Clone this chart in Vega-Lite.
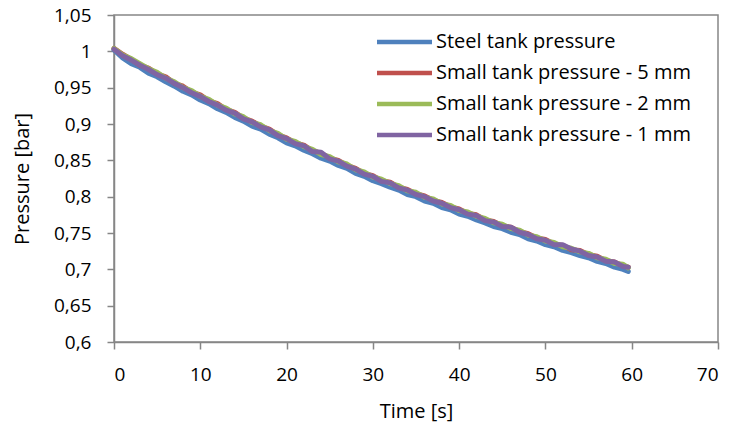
{
  "$schema": "https://vega.github.io/schema/vega-lite/v6.json",
  "width": 604,
  "height": 327,
  "autosize": {"type": "none"},
  "padding": {"left": 114, "top": 15, "right": 14, "bottom": 83},
  "background": "white",
  "config": {
    "view": {"stroke": "#868686", "strokeWidth": 1.5},
    "font": "Open Sans",
    "axis": {
      "grid": false,
      "domainColor": "#868686",
      "domainWidth": 1.5,
      "tickColor": "#868686",
      "tickWidth": 1.5,
      "tickSize": 7,
      "labelFont": "Open Sans",
      "labelFontSize": 19,
      "labelColor": "black",
      "titleFont": "Open Sans",
      "titleFontSize": 20,
      "titleFontWeight": "normal",
      "titleColor": "black"
    }
  },
  "data": {
    "values": [
      {"t":0,"Steel tank pressure":1.002,"Small tank pressure - 5 mm":1.004,"Small tank pressure - 2 mm":1.004,"Small tank pressure - 1 mm":1.003},
      {"t":1,"Steel tank pressure":0.991,"Small tank pressure - 5 mm":0.996,"Small tank pressure - 2 mm":0.995,"Small tank pressure - 1 mm":0.994},
      {"t":2,"Steel tank pressure":0.983,"Small tank pressure - 5 mm":0.989,"Small tank pressure - 2 mm":0.990,"Small tank pressure - 1 mm":0.988},
      {"t":3,"Steel tank pressure":0.978,"Small tank pressure - 5 mm":0.981,"Small tank pressure - 2 mm":0.983,"Small tank pressure - 1 mm":0.981},
      {"t":4,"Steel tank pressure":0.970,"Small tank pressure - 5 mm":0.977,"Small tank pressure - 2 mm":0.976,"Small tank pressure - 1 mm":0.975},
      {"t":5,"Steel tank pressure":0.965,"Small tank pressure - 5 mm":0.969,"Small tank pressure - 2 mm":0.971,"Small tank pressure - 1 mm":0.968},
      {"t":6,"Steel tank pressure":0.958,"Small tank pressure - 5 mm":0.965,"Small tank pressure - 2 mm":0.963,"Small tank pressure - 1 mm":0.963},
      {"t":7,"Steel tank pressure":0.952,"Small tank pressure - 5 mm":0.956,"Small tank pressure - 2 mm":0.958,"Small tank pressure - 1 mm":0.956},
      {"t":8,"Steel tank pressure":0.945,"Small tank pressure - 5 mm":0.952,"Small tank pressure - 2 mm":0.950,"Small tank pressure - 1 mm":0.950},
      {"t":9,"Steel tank pressure":0.940,"Small tank pressure - 5 mm":0.944,"Small tank pressure - 2 mm":0.946,"Small tank pressure - 1 mm":0.943},
      {"t":10,"Steel tank pressure":0.933,"Small tank pressure - 5 mm":0.940,"Small tank pressure - 2 mm":0.938,"Small tank pressure - 1 mm":0.938},
      {"t":11,"Steel tank pressure":0.928,"Small tank pressure - 5 mm":0.932,"Small tank pressure - 2 mm":0.934,"Small tank pressure - 1 mm":0.931},
      {"t":12,"Steel tank pressure":0.921,"Small tank pressure - 5 mm":0.928,"Small tank pressure - 2 mm":0.926,"Small tank pressure - 1 mm":0.926},
      {"t":13,"Steel tank pressure":0.916,"Small tank pressure - 5 mm":0.920,"Small tank pressure - 2 mm":0.922,"Small tank pressure - 1 mm":0.919},
      {"t":14,"Steel tank pressure":0.909,"Small tank pressure - 5 mm":0.916,"Small tank pressure - 2 mm":0.914,"Small tank pressure - 1 mm":0.915},
      {"t":15,"Steel tank pressure":0.904,"Small tank pressure - 5 mm":0.908,"Small tank pressure - 2 mm":0.910,"Small tank pressure - 1 mm":0.907},
      {"t":16,"Steel tank pressure":0.897,"Small tank pressure - 5 mm":0.904,"Small tank pressure - 2 mm":0.902,"Small tank pressure - 1 mm":0.903},
      {"t":17,"Steel tank pressure":0.893,"Small tank pressure - 5 mm":0.897,"Small tank pressure - 2 mm":0.899,"Small tank pressure - 1 mm":0.896},
      {"t":18,"Steel tank pressure":0.886,"Small tank pressure - 5 mm":0.893,"Small tank pressure - 2 mm":0.891,"Small tank pressure - 1 mm":0.892},
      {"t":19,"Steel tank pressure":0.881,"Small tank pressure - 5 mm":0.885,"Small tank pressure - 2 mm":0.887,"Small tank pressure - 1 mm":0.884},
      {"t":20,"Steel tank pressure":0.874,"Small tank pressure - 5 mm":0.881,"Small tank pressure - 2 mm":0.879,"Small tank pressure - 1 mm":0.880},
      {"t":21,"Steel tank pressure":0.870,"Small tank pressure - 5 mm":0.874,"Small tank pressure - 2 mm":0.876,"Small tank pressure - 1 mm":0.873},
      {"t":22,"Steel tank pressure":0.864,"Small tank pressure - 5 mm":0.871,"Small tank pressure - 2 mm":0.869,"Small tank pressure - 1 mm":0.870},
      {"t":23,"Steel tank pressure":0.859,"Small tank pressure - 5 mm":0.863,"Small tank pressure - 2 mm":0.865,"Small tank pressure - 1 mm":0.862},
      {"t":24,"Steel tank pressure":0.853,"Small tank pressure - 5 mm":0.860,"Small tank pressure - 2 mm":0.858,"Small tank pressure - 1 mm":0.861},
      {"t":25,"Steel tank pressure":0.849,"Small tank pressure - 5 mm":0.853,"Small tank pressure - 2 mm":0.855,"Small tank pressure - 1 mm":0.852},
      {"t":26,"Steel tank pressure":0.843,"Small tank pressure - 5 mm":0.850,"Small tank pressure - 2 mm":0.848,"Small tank pressure - 1 mm":0.849},
      {"t":27,"Steel tank pressure":0.839,"Small tank pressure - 5 mm":0.843,"Small tank pressure - 2 mm":0.845,"Small tank pressure - 1 mm":0.842},
      {"t":28,"Steel tank pressure":0.832,"Small tank pressure - 5 mm":0.839,"Small tank pressure - 2 mm":0.837,"Small tank pressure - 1 mm":0.838},
      {"t":29,"Steel tank pressure":0.828,"Small tank pressure - 5 mm":0.832,"Small tank pressure - 2 mm":0.834,"Small tank pressure - 1 mm":0.831},
      {"t":30,"Steel tank pressure":0.822,"Small tank pressure - 5 mm":0.829,"Small tank pressure - 2 mm":0.827,"Small tank pressure - 1 mm":0.828},
      {"t":31,"Steel tank pressure":0.818,"Small tank pressure - 5 mm":0.822,"Small tank pressure - 2 mm":0.824,"Small tank pressure - 1 mm":0.821},
      {"t":32,"Steel tank pressure":0.813,"Small tank pressure - 5 mm":0.820,"Small tank pressure - 2 mm":0.818,"Small tank pressure - 1 mm":0.819},
      {"t":33,"Steel tank pressure":0.809,"Small tank pressure - 5 mm":0.813,"Small tank pressure - 2 mm":0.815,"Small tank pressure - 1 mm":0.812},
      {"t":34,"Steel tank pressure":0.803,"Small tank pressure - 5 mm":0.810,"Small tank pressure - 2 mm":0.808,"Small tank pressure - 1 mm":0.809},
      {"t":35,"Steel tank pressure":0.800,"Small tank pressure - 5 mm":0.804,"Small tank pressure - 2 mm":0.806,"Small tank pressure - 1 mm":0.803},
      {"t":36,"Steel tank pressure":0.794,"Small tank pressure - 5 mm":0.801,"Small tank pressure - 2 mm":0.799,"Small tank pressure - 1 mm":0.800},
      {"t":37,"Steel tank pressure":0.791,"Small tank pressure - 5 mm":0.795,"Small tank pressure - 2 mm":0.797,"Small tank pressure - 1 mm":0.794},
      {"t":38,"Steel tank pressure":0.785,"Small tank pressure - 5 mm":0.792,"Small tank pressure - 2 mm":0.790,"Small tank pressure - 1 mm":0.791},
      {"t":39,"Steel tank pressure":0.782,"Small tank pressure - 5 mm":0.786,"Small tank pressure - 2 mm":0.788,"Small tank pressure - 1 mm":0.785},
      {"t":40,"Steel tank pressure":0.776,"Small tank pressure - 5 mm":0.783,"Small tank pressure - 2 mm":0.781,"Small tank pressure - 1 mm":0.782},
      {"t":41,"Steel tank pressure":0.773,"Small tank pressure - 5 mm":0.777,"Small tank pressure - 2 mm":0.779,"Small tank pressure - 1 mm":0.776},
      {"t":42,"Steel tank pressure":0.768,"Small tank pressure - 5 mm":0.775,"Small tank pressure - 2 mm":0.773,"Small tank pressure - 1 mm":0.774},
      {"t":43,"Steel tank pressure":0.764,"Small tank pressure - 5 mm":0.768,"Small tank pressure - 2 mm":0.770,"Small tank pressure - 1 mm":0.767},
      {"t":44,"Steel tank pressure":0.759,"Small tank pressure - 5 mm":0.766,"Small tank pressure - 2 mm":0.764,"Small tank pressure - 1 mm":0.765},
      {"t":45,"Steel tank pressure":0.756,"Small tank pressure - 5 mm":0.760,"Small tank pressure - 2 mm":0.762,"Small tank pressure - 1 mm":0.759},
      {"t":46,"Steel tank pressure":0.751,"Small tank pressure - 5 mm":0.758,"Small tank pressure - 2 mm":0.756,"Small tank pressure - 1 mm":0.758},
      {"t":47,"Steel tank pressure":0.748,"Small tank pressure - 5 mm":0.752,"Small tank pressure - 2 mm":0.754,"Small tank pressure - 1 mm":0.751},
      {"t":48,"Steel tank pressure":0.742,"Small tank pressure - 5 mm":0.749,"Small tank pressure - 2 mm":0.747,"Small tank pressure - 1 mm":0.748},
      {"t":49,"Steel tank pressure":0.739,"Small tank pressure - 5 mm":0.743,"Small tank pressure - 2 mm":0.745,"Small tank pressure - 1 mm":0.742},
      {"t":50,"Steel tank pressure":0.734,"Small tank pressure - 5 mm":0.741,"Small tank pressure - 2 mm":0.739,"Small tank pressure - 1 mm":0.740},
      {"t":51,"Steel tank pressure":0.731,"Small tank pressure - 5 mm":0.735,"Small tank pressure - 2 mm":0.737,"Small tank pressure - 1 mm":0.734},
      {"t":52,"Steel tank pressure":0.726,"Small tank pressure - 5 mm":0.733,"Small tank pressure - 2 mm":0.731,"Small tank pressure - 1 mm":0.734},
      {"t":53,"Steel tank pressure":0.723,"Small tank pressure - 5 mm":0.727,"Small tank pressure - 2 mm":0.729,"Small tank pressure - 1 mm":0.728},
      {"t":54,"Steel tank pressure":0.719,"Small tank pressure - 5 mm":0.726,"Small tank pressure - 2 mm":0.724,"Small tank pressure - 1 mm":0.725},
      {"t":55,"Steel tank pressure":0.716,"Small tank pressure - 5 mm":0.720,"Small tank pressure - 2 mm":0.722,"Small tank pressure - 1 mm":0.719},
      {"t":56,"Steel tank pressure":0.711,"Small tank pressure - 5 mm":0.718,"Small tank pressure - 2 mm":0.716,"Small tank pressure - 1 mm":0.717},
      {"t":57,"Steel tank pressure":0.708,"Small tank pressure - 5 mm":0.712,"Small tank pressure - 2 mm":0.714,"Small tank pressure - 1 mm":0.711},
      {"t":58,"Steel tank pressure":0.703,"Small tank pressure - 5 mm":0.710,"Small tank pressure - 2 mm":0.708,"Small tank pressure - 1 mm":0.710},
      {"t":59,"Steel tank pressure":0.700,"Small tank pressure - 5 mm":0.705,"Small tank pressure - 2 mm":0.707,"Small tank pressure - 1 mm":0.704},
      {"t":59.6,"Steel tank pressure":0.697,"Small tank pressure - 5 mm":0.703,"Small tank pressure - 2 mm":0.702,"Small tank pressure - 1 mm":0.703}
    ]
  },
  "transform": [
    {"fold": ["Steel tank pressure", "Small tank pressure - 5 mm", "Small tank pressure - 2 mm", "Small tank pressure - 1 mm"], "as": ["series", "p"]}
  ],
  "mark": {"type": "line", "strokeWidth": 5, "strokeCap": "round", "strokeJoin": "round"},
  "encoding": {
    "x": {
      "field": "t", "type": "quantitative",
      "scale": {"domain": [0, 70], "nice": false},
      "axis": {"values": [0, 10, 20, 30, 40, 50, 60, 70], "title": "Time [s]", "labelPadding": 16, "titlePadding": 17}
    },
    "y": {
      "field": "p", "type": "quantitative",
      "scale": {"domain": [0.6, 1.05], "nice": false, "zero": false},
      "axis": {"values": [0.6, 0.65, 0.7, 0.75, 0.8, 0.85, 0.9, 0.95, 1, 1.05], "title": "Pressure [bar]", "labelExpr": "replace(format(datum.value, '~g'), '.', ',')", "labelPadding": 16, "titlePadding": 21}
    },
    "color": {
      "field": "series", "type": "nominal",
      "scale": {
        "domain": ["Steel tank pressure", "Small tank pressure - 5 mm", "Small tank pressure - 2 mm", "Small tank pressure - 1 mm"],
        "range": ["#4F81BD", "#C0504D", "#9BBB59", "#8064A2"]
      },
      "legend": {
        "title": null,
        "orient": "none",
        "legendX": 274.5,
        "legendY": 11,
        "padding": 0,
        "symbolType": "M-2,0H2",
        "symbolSize": 756,
        "symbolStrokeWidth": 4.5,
        "labelFont": "Open Sans",
        "labelFontSize": 20,
        "labelColor": "black",
        "labelOffset": 15.5,
        "rowPadding": 5,
        "labelLimit": 400
      }
    }
  }
}
